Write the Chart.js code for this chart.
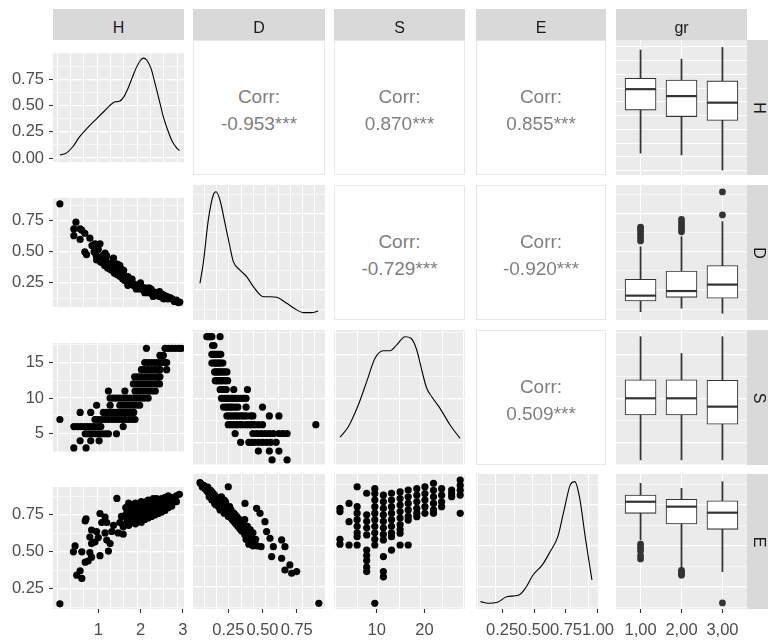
<!DOCTYPE html>
<html>
<head>
<meta charset="utf-8">
<script src="https://cdn.jsdelivr.net/npm/chart.js@4.4.1/dist/chart.umd.min.js"></script>
<style>
body { margin: 0; background: #fff; }
#fig { position: relative; width: 768px; height: 644px; overflow: hidden; font-family: "Liberation Sans", Arial, sans-serif; }
canvas { position: absolute; }
.strip { position: absolute; background: #d9d9d9; color: #1a1a1a; font-size: 16px; display: flex; align-items: center; justify-content: center; box-sizing: border-box; }
.strip.top { padding-top: 7px; }
.strip.side span { display: inline-block; transform: rotate(90deg); }
.corr { position: absolute; background: #fff; border: 1px solid #e8e8e8; box-sizing: border-box; color: #7f7f7f; font-size: 19px; }
.corr div { position: absolute; left: 0; right: 0; height: 22px; line-height: 22px; text-align: center; }
</style>
</head>
<body>
<div id="fig"></div>
<script>
// ---------- data ----------
var colNames = ['H', 'D', 'S', 'E', 'gr'];
var rowNames = ['H', 'D', 'S', 'E'];
var groups = ['1,00', '2,00', '3,00'];

// correlation panels: row, col, text
var corrPanels = [
    [0, 1, '-0.953***'], [0, 2, '0.870***'], [0, 3, '0.855***'],
    [1, 2, '-0.729***'], [1, 3, '-0.920***'],
    [2, 3, '0.509***']
];

// axis ranges
var hRange = [-0.073, 3.03];
var dRange = [-0.008, 0.957];
var sColRange = [1.05, 28.5];
var eColRange = [0.046, 1.0];
var grRange = [0.4, 3.6];
var densRowRange = [-0.038, 1.0];
var dRowRange = [0.054, 0.935];
var sRowRange = [2.42, 17.76];
var eRowRange = [0.113, 0.94];

// tick labels
var hTicks = [1, 2, 3];
var dTicks = [0.25, 0.5, 0.75];
var sColTicks = [10, 20];
var eColTicks = [0.25, 0.5, 0.75, 1.0];
var grTicks = [1, 2, 3];
var densTicks = [0, 0.25, 0.5, 0.75];
var dRowTicks = [0.25, 0.5, 0.75];
var sRowTicks = [5, 10, 15];
var eRowTicks = [0.25, 0.5, 0.75];

// diagonal densities
var densHx = [0.09, 0.25, 0.4, 0.55, 0.75, 0.95, 1.15, 1.3, 1.4, 1.5, 1.6, 1.7, 1.8, 1.9, 2.0, 2.07, 2.15, 2.25, 2.35, 2.45, 2.55, 2.65, 2.75, 2.85, 2.92];
var densHy = [0.03, 0.05, 0.11, 0.2, 0.29, 0.37, 0.45, 0.51, 0.535, 0.54, 0.58, 0.66, 0.76, 0.86, 0.93, 0.95, 0.93, 0.85, 0.7, 0.54, 0.38, 0.26, 0.16, 0.1, 0.07];
var densDx = [0.043, 0.067, 0.104, 0.14, 0.16, 0.189, 0.226, 0.262, 0.287, 0.335, 0.384, 0.433, 0.506, 0.555, 0.604, 0.677, 0.75, 0.798, 0.859, 0.907];
var densDy = [0.294, 0.424, 0.707, 0.87, 0.891, 0.837, 0.685, 0.532, 0.435, 0.38, 0.337, 0.272, 0.206, 0.206, 0.202, 0.163, 0.12, 0.102, 0.102, 0.113];
var densSx = [2.3, 4.05, 6.14, 7.9, 9.64, 11.38, 12.79, 14.19, 15.93, 17.19, 18.39, 19.43, 20.48, 21.53, 23.27, 25.37, 27.46];
var densSy = [5.57, 6.77, 9.24, 11.89, 14.55, 15.41, 15.41, 16.06, 17.0, 16.82, 15.49, 13.22, 11.14, 10.18, 8.86, 6.97, 5.45];
var densEx = [0.081, 0.141, 0.214, 0.286, 0.383, 0.432, 0.492, 0.565, 0.626, 0.686, 0.735, 0.783, 0.819, 0.855, 0.904, 0.953];
var densEy = [0.158, 0.148, 0.154, 0.188, 0.199, 0.24, 0.321, 0.383, 0.464, 0.556, 0.719, 0.872, 0.893, 0.801, 0.536, 0.291];

// box plots per group: [lower whisker, q1, median, q3, upper whisker]
var boxH = [[0.43, 1.42, 1.9, 2.15, 2.8], [0.39, 1.27, 1.74, 2.11, 2.59], [0.04, 1.18, 1.59, 2.09, 2.86]];
var boxD = [[0.108, 0.178, 0.213, 0.32, 0.532], [0.131, 0.202, 0.243, 0.374, 0.598], [0.098, 0.196, 0.285, 0.409, 0.696]];
var boxS = [[3, 8.1, 10, 12.1, 17], [3, 8.1, 10, 12.1, 15.1], [3, 7.05, 9.05, 12.05, 17]];
var boxE = [[0.536, 0.699, 0.77, 0.811, 0.883], [0.362, 0.634, 0.74, 0.785, 0.852], [0.342, 0.601, 0.703, 0.776, 0.893]];
// outliers: [group, value]
var outD = [[1, 0.57], [1, 0.59], [1, 0.61], [1, 0.63], [1, 0.65], [1, 0.66], [2, 0.63], [2, 0.65], [2, 0.67], [2, 0.69], [2, 0.71], [3, 0.74], [3, 0.89]];
var outE = [[1, 0.51], [1, 0.49], [1, 0.47], [1, 0.44], [1, 0.42], [2, 0.35], [2, 0.34], [2, 0.33], [2, 0.32], [3, 0.15]];

// scatter panels [x, y]
var hdPts = [
    [0.09, 0.887], [0.47, 0.739], [0.42, 0.685], [0.42, 0.63], [0.57, 0.685], [0.57, 0.6], [0.61, 0.674], [0.68, 0.65], [0.8, 0.61],
    [0.68, 0.5], [0.72, 0.478], [0.92, 0.565], [1.04, 0.565], [0.96, 0.435], [1.16, 0.49], [1.2, 0.467], [1.36, 0.45], [1.51, 0.39],
    [0.85, 0.55], [0.9, 0.5], [0.95, 0.47], [1.0, 0.52], [1.0, 0.45], [1.05, 0.42], [1.1, 0.47], [1.1, 0.41], [1.15, 0.44], [1.15, 0.39],
    [1.2, 0.42], [1.22, 0.37], [1.25, 0.4], [1.28, 0.36], [1.3, 0.39], [1.33, 0.35], [1.36, 0.37], [1.38, 0.33], [1.4, 0.36], [1.43, 0.32],
    [1.45, 0.34], [1.48, 0.31], [1.5, 0.33], [1.52, 0.3], [1.55, 0.31], [1.58, 0.28], [1.6, 0.3], [1.62, 0.27], [1.65, 0.29], [1.68, 0.26],
    [1.7, 0.27], [1.73, 0.25], [1.75, 0.26], [1.78, 0.24], [1.8, 0.25], [1.83, 0.23], [1.85, 0.24], [1.88, 0.22], [1.9, 0.23], [1.93, 0.21],
    [1.95, 0.23], [1.98, 0.2], [2.0, 0.22], [2.03, 0.2], [2.05, 0.21], [2.08, 0.19], [2.1, 0.21], [2.13, 0.18], [2.15, 0.2], [2.18, 0.17],
    [2.2, 0.19], [2.23, 0.17], [2.25, 0.2], [2.28, 0.16], [2.3, 0.18], [2.33, 0.15], [2.35, 0.17], [2.4, 0.15], [2.42, 0.17], [2.45, 0.14],
    [2.5, 0.16], [2.52, 0.13], [2.55, 0.15], [2.6, 0.13], [2.62, 0.14], [2.65, 0.12], [2.7, 0.13], [2.75, 0.12], [2.8, 0.1], [2.85, 0.11],
    [2.9, 0.09], [2.93, 0.095], [1.35, 0.42], [1.45, 0.4], [1.55, 0.36], [1.6, 0.35], [1.7, 0.3], [1.8, 0.28], [1.9, 0.2], [2.0, 0.25],
    [2.1, 0.17], [1.7, 0.23], [1.6, 0.32], [2.2, 0.21], [2.3, 0.14], [2.45, 0.18], [2.55, 0.12]
];
var hsPts = [
    [0.09, 7], [0.42, 3], [0.71, 3], [0.57, 4], [0.82, 4], [1.02, 4],
    [0.69, 5], [0.77, 5], [0.85, 5], [0.93, 5], [1.01, 5], [1.09, 5], [1.17, 5], [1.24, 5], [1.43, 5],
    [0.42, 6], [0.5, 6], [0.58, 6], [0.66, 6], [0.74, 6], [0.82, 6], [0.9, 6], [0.98, 6], [1.06, 6], [1.59, 6],
    [0.92, 7], [1.0, 7], [1.08, 7], [1.16, 7], [1.24, 7], [1.32, 7], [1.4, 7], [1.48, 7], [1.56, 7], [1.64, 7], [1.72, 7], [1.8, 7], [1.87, 7],
    [0.57, 8], [0.82, 8], [1.12, 8], [1.2, 8], [1.28, 8], [1.36, 8], [1.44, 8], [1.52, 8], [1.6, 8], [1.68, 8], [1.76, 8], [1.84, 8],
    [0.96, 9], [1.28, 9], [1.51, 9], [1.59, 9], [1.67, 9], [1.75, 9], [1.83, 9], [1.91, 9], [1.98, 9],
    [1.28, 10], [1.36, 10], [1.44, 10], [1.52, 10], [1.6, 10], [1.68, 10], [1.76, 10], [1.84, 10], [1.92, 10], [2.0, 10], [2.08, 10], [2.18, 10],
    [1.24, 11], [1.63, 11], [1.87, 11], [1.95, 11], [2.03, 11], [2.11, 11], [2.19, 11], [2.27, 11], [2.35, 11],
    [1.83, 12], [1.91, 12], [1.99, 12], [2.07, 12], [2.15, 12], [2.23, 12], [2.31, 12], [2.39, 12], [2.45, 12],
    [1.86, 13], [1.94, 13], [2.02, 13], [2.1, 13], [2.18, 13], [2.26, 13], [2.34, 13], [2.42, 13], [2.46, 13],
    [2.02, 14], [2.1, 14], [2.18, 14], [2.26, 14], [2.34, 14], [2.42, 14], [2.46, 14], [2.62, 14],
    [2.1, 15], [2.18, 15], [2.26, 15], [2.34, 15], [2.42, 15], [2.5, 15], [2.58, 15], [2.62, 15],
    [2.46, 16], [2.54, 16],
    [2.14, 17], [2.58, 17], [2.66, 17], [2.74, 17], [2.82, 17], [2.9, 17], [2.97, 17]
];
var dsPts = [
    [0.89, 7], [0.68, 3], [0.57, 3], [0.62, 4], [0.55, 4], [0.47, 4],
    [0.6, 5], [0.56, 5], [0.53, 5], [0.5, 5], [0.47, 5], [0.44, 5], [0.42, 5], [0.4, 5], [0.34, 5],
    [0.68, 6], [0.65, 6], [0.62, 6], [0.58, 6], [0.55, 6], [0.52, 6], [0.49, 6], [0.46, 6], [0.43, 6], [0.3, 6],
    [0.5, 7], [0.47, 7], [0.44, 7], [0.42, 7], [0.4, 7], [0.38, 7], [0.35, 7], [0.33, 7], [0.31, 7], [0.29, 7], [0.27, 7], [0.25, 7],
    [0.62, 8], [0.55, 8], [0.43, 8], [0.41, 8], [0.38, 8], [0.36, 8], [0.34, 8], [0.32, 8], [0.3, 8], [0.28, 8], [0.26, 8], [0.24, 8],
    [0.5, 9], [0.38, 9], [0.32, 9], [0.3, 9], [0.28, 9], [0.265, 9], [0.25, 9], [0.235, 9], [0.215, 9],
    [0.38, 10], [0.36, 10], [0.34, 10], [0.32, 10], [0.3, 10], [0.285, 10], [0.27, 10], [0.25, 10], [0.235, 10], [0.22, 10], [0.2, 10],
    [0.39, 11], [0.29, 11], [0.235, 11], [0.22, 11], [0.205, 11], [0.19, 11],
    [0.245, 12], [0.23, 12], [0.215, 12], [0.2, 12], [0.19, 12], [0.175, 12], [0.165, 12], [0.155, 12],
    [0.24, 13], [0.225, 13], [0.21, 13], [0.195, 13], [0.185, 13], [0.17, 13], [0.16, 13], [0.15, 13],
    [0.21, 14], [0.195, 14], [0.185, 14], [0.175, 14], [0.165, 14], [0.155, 14], [0.145, 14], [0.13, 14],
    [0.195, 15], [0.185, 15], [0.175, 15], [0.165, 15], [0.155, 15], [0.145, 15], [0.135, 15], [0.13, 15],
    [0.145, 16], [0.135, 16],
    [0.19, 17], [0.13, 17], [0.12, 17], [0.115, 17], [0.11, 17], [0.1, 17], [0.093, 17]
];
var hePts = [
    [0.09, 0.148], [0.45, 0.54], [0.41, 0.5], [0.61, 0.5], [0.49, 0.342], [0.57, 0.372], [0.61, 0.32], [0.69, 0.709], [0.71, 0.724],
    [0.69, 0.43], [0.76, 0.438], [0.84, 0.464], [0.8, 0.495], [0.84, 0.556], [0.84, 0.648], [0.8, 0.6], [0.92, 0.566], [1.04, 0.474],
    [1.04, 0.76], [1.0, 0.597], [0.96, 0.638], [1.08, 0.699], [1.16, 0.736], [1.16, 0.628], [1.2, 0.58], [1.2, 0.699], [1.24, 0.505],
    [1.28, 0.556], [1.32, 0.638], [1.36, 0.68], [1.44, 0.862], [1.51, 0.699], [1.55, 0.74], [1.47, 0.628], [1.59, 0.67], [1.59, 0.62],
    [1.65, 0.69], [1.65, 0.75], [1.65, 0.8], [1.72, 0.68], [1.72, 0.74], [1.72, 0.79], [1.72, 0.83], [1.8, 0.7], [1.8, 0.76], [1.8, 0.81],
    [1.88, 0.69], [1.88, 0.74], [1.88, 0.79], [1.88, 0.83], [1.95, 0.71], [1.95, 0.77], [1.95, 0.82], [2.02, 0.7], [2.02, 0.75], [2.02, 0.8],
    [2.02, 0.84], [2.1, 0.72], [2.1, 0.78], [2.1, 0.83], [2.18, 0.73], [2.18, 0.77], [2.18, 0.81], [2.18, 0.85], [2.26, 0.74], [2.26, 0.79],
    [2.26, 0.84], [2.34, 0.75], [2.34, 0.8], [2.34, 0.85], [2.42, 0.76], [2.42, 0.8], [2.42, 0.84], [2.5, 0.77], [2.5, 0.82], [2.5, 0.86],
    [2.58, 0.78], [2.58, 0.82], [2.58, 0.87], [2.66, 0.8], [2.66, 0.84], [2.66, 0.88], [2.74, 0.81], [2.74, 0.85], [2.85, 0.84], [2.85, 0.88],
    [2.92, 0.89],
    [1.68, 0.72], [1.68, 0.77], [1.76, 0.71], [1.76, 0.77], [1.76, 0.81], [1.84, 0.72], [1.84, 0.78], [1.84, 0.82], [1.92, 0.72], [1.92, 0.76],
    [1.92, 0.8], [1.99, 0.73], [1.99, 0.78], [1.99, 0.83], [2.06, 0.73], [2.06, 0.77], [2.06, 0.81], [2.14, 0.75], [2.14, 0.8], [2.14, 0.84],
    [2.22, 0.75], [2.22, 0.79], [2.22, 0.83], [2.3, 0.77], [2.3, 0.81], [2.3, 0.86], [2.38, 0.77], [2.38, 0.82], [2.38, 0.86], [2.46, 0.79],
    [2.46, 0.83], [2.54, 0.8], [2.54, 0.84], [2.62, 0.8], [2.62, 0.85], [2.7, 0.83], [2.7, 0.87], [2.78, 0.84], [2.8, 0.87]
];
var dePts = [
    [0.043, 0.887], [0.05, 0.88], [0.07, 0.87], [0.08, 0.85], [0.1, 0.86], [0.1, 0.83], [0.12, 0.84], [0.12, 0.81], [0.14, 0.82], [0.14, 0.79],
    [0.15, 0.76], [0.16, 0.8], [0.17, 0.77], [0.18, 0.74], [0.19, 0.79], [0.2, 0.76], [0.21, 0.72], [0.22, 0.78], [0.23, 0.74], [0.24, 0.7],
    [0.25, 0.862], [0.25, 0.73], [0.26, 0.68], [0.27, 0.72], [0.28, 0.66], [0.29, 0.7], [0.3, 0.64], [0.31, 0.68], [0.32, 0.62], [0.33, 0.66],
    [0.34, 0.6], [0.35, 0.64], [0.36, 0.6], [0.37, 0.66], [0.38, 0.58], [0.39, 0.62], [0.4, 0.56], [0.41, 0.6], [0.42, 0.53], [0.43, 0.58],
    [0.44, 0.52], [0.44, 0.505], [0.38, 0.54], [0.4, 0.51], [0.43, 0.5], [0.46, 0.5], [0.372, 0.76], [0.457, 0.73], [0.482, 0.699],
    [0.518, 0.648], [0.53, 0.587], [0.49, 0.495], [0.555, 0.546], [0.579, 0.495], [0.567, 0.434], [0.64, 0.536], [0.664, 0.495],
    [0.64, 0.424], [0.664, 0.352], [0.7, 0.383], [0.713, 0.332], [0.75, 0.342], [0.912, 0.148],
    [0.06, 0.86], [0.09, 0.84], [0.11, 0.8], [0.13, 0.83], [0.13, 0.78], [0.15, 0.81], [0.16, 0.75], [0.18, 0.78], [0.19, 0.72], [0.2, 0.8],
    [0.21, 0.75], [0.22, 0.7], [0.23, 0.77], [0.24, 0.72], [0.25, 0.68], [0.26, 0.74], [0.27, 0.67], [0.28, 0.7], [0.29, 0.65], [0.3, 0.69],
    [0.31, 0.63], [0.32, 0.67], [0.33, 0.61], [0.34, 0.65], [0.35, 0.59], [0.36, 0.63], [0.37, 0.57], [0.38, 0.61], [0.39, 0.55], [0.41, 0.54],
    [0.42, 0.57], [0.45, 0.54]
];
var sePts = [
    [2.3, 0.73], [2.3, 0.71], [2.3, 0.54], [2.3, 0.51],
    [4.2, 0.76], [4.2, 0.648], [4.2, 0.505],
    [5.9, 0.862], [5.9, 0.74], [5.9, 0.7], [5.9, 0.66], [5.9, 0.62], [5.9, 0.58], [5.9, 0.556], [5.9, 0.505],
    [7.9, 0.822], [7.9, 0.69], [7.9, 0.65], [7.9, 0.61], [7.9, 0.567], [7.9, 0.474], [7.9, 0.44], [7.9, 0.41], [7.9, 0.37], [7.9, 0.342],
    [9.6, 0.85], [9.6, 0.82], [9.6, 0.78], [9.6, 0.74], [9.6, 0.7], [9.6, 0.66], [9.6, 0.62], [9.6, 0.58], [9.6, 0.54], [9.6, 0.505], [9.6, 0.148],
    [11.4, 0.81], [11.4, 0.77], [11.4, 0.73], [11.4, 0.69], [11.4, 0.65], [11.4, 0.61], [11.4, 0.57], [11.4, 0.536], [11.4, 0.434], [11.4, 0.342], [11.4, 0.31],
    [13.1, 0.822], [13.1, 0.78], [13.1, 0.74], [13.1, 0.7], [13.1, 0.66], [13.1, 0.62], [13.1, 0.58], [13.1, 0.556], [13.1, 0.474],
    [14.9, 0.83], [14.9, 0.79], [14.9, 0.75], [14.9, 0.71], [14.9, 0.67], [14.9, 0.63], [14.9, 0.6], [14.9, 0.577], [14.9, 0.505],
    [16.6, 0.842], [16.6, 0.8], [16.6, 0.76], [16.6, 0.72], [16.6, 0.68], [16.6, 0.658], [16.6, 0.505],
    [18.4, 0.85], [18.4, 0.81], [18.4, 0.77], [18.4, 0.73], [18.4, 0.7], [18.4, 0.678],
    [20.1, 0.862], [20.1, 0.82], [20.1, 0.78], [20.1, 0.74], [20.1, 0.699],
    [21.9, 0.883], [21.9, 0.84], [21.9, 0.8], [21.9, 0.76], [21.9, 0.72], [21.9, 0.699],
    [23.6, 0.85], [23.6, 0.81], [23.6, 0.77], [23.6, 0.74],
    [25.7, 0.842], [25.7, 0.82], [25.7, 0.801],
    [27.5, 0.903], [27.5, 0.87], [27.5, 0.84], [27.5, 0.811], [27.5, 0.699]
];

// ---------- layout ----------
var colL = [53, 193, 334, 476, 616];
var colW = [131, 132, 131, 130, 131];
var rowT = [40, 185, 330, 474];
var rowH = 135;

Chart.defaults.font.family = '"Liberation Sans", Arial, sans-serif';

var fig = document.getElementById('fig');

function seq(start, step, n) {
    var out = [];
    for (var k = 0; k < n; k++) out.push(+(start + step * k).toFixed(4));
    return out;
}
function isMult(v, step) {
    var q = v / step;
    return Math.abs(q - Math.round(q)) < 1e-6;
}
var fmt2 = function (v) { return v.toFixed(2); };
var fmt0 = function (v) { return String(v); };
var fmtGr = function (v) { return groups[v - 1]; };

// white grid lines of each panel
var hGrid = seq(0.028, 0.316, 10);
var dGrid = seq(0.075, 0.0898, 10);
var sColGrid = seq(1.405, 4.465, 7);
var eColGrid = seq(0.056, 0.1453, 7);
var densGrid = seq(0, 0.125, 9);
var dRowGrid = seq(0.125, 0.125, 7);
var sRowGrid = seq(2.5, 2.5, 7);
var eRowGrid = seq(0.125, 0.125, 7);

function gridAxis(axis, range, vals, majorStep) {
    return {
        type: 'linear', axis: axis, position: axis === 'x' ? 'bottom' : 'left',
        min: range[0], max: range[1], offset: false, beginAtZero: false, bounds: 'data',
        afterBuildTicks: function (s) { s.ticks = vals.map(function (v) { return { value: v }; }); },
        afterFit: function (s) { if (axis === 'x') s.height = 0; else s.width = 0; },
        ticks: { display: false },
        grid: {
            color: '#ffffff', drawTicks: false, offset: false,
            lineWidth: function (ctx) {
                if (!majorStep) return 1;
                return ctx.tick && isMult(ctx.tick.value, majorStep) ? 1.3 : 0.6;
            }
        },
        border: { display: false }
    };
}

function tickAxis(axis, range, vals, fmt, size) {
    return {
        type: 'linear', axis: axis, position: axis === 'x' ? 'bottom' : 'left',
        min: range[0], max: range[1], offset: false, beginAtZero: false, bounds: 'data',
        afterBuildTicks: function (s) { s.ticks = vals.map(function (v) { return { value: v }; }); },
        afterFit: function (s) { if (axis === 'x') s.height = size; else s.width = size; },
        ticks: {
            display: true, color: '#4d4d4d', font: { size: 16.5 }, padding: axis === 'x' ? 8 : 5,
            autoSkip: false, maxRotation: 0, minRotation: 0,
            callback: function (v) { return fmt(v); }
        },
        grid: { drawOnChartArea: false, drawTicks: true, tickLength: 4, tickColor: '#333333', tickWidth: 1.1, offset: false },
        border: { display: false }
    };
}

var panelBg = {
    id: 'panelBg',
    beforeDraw: function (chart) {
        var a = chart.chartArea, g = chart.ctx;
        g.save();
        g.fillStyle = '#ebebeb';
        g.fillRect(a.left, a.top, a.right - a.left, a.bottom - a.top);
        g.restore();
    }
};

// per column / row scale settings
var colSpec = [
    { range: hRange, grid: hGrid, ticks: hTicks, fmt: fmt0 },
    { range: dRange, grid: dGrid, ticks: dTicks, fmt: fmt2 },
    { range: sColRange, grid: sColGrid, ticks: sColTicks, fmt: fmt0 },
    { range: eColRange, grid: eColGrid, ticks: eColTicks, fmt: fmt2 },
    { range: grRange, grid: grTicks, ticks: grTicks, fmt: fmtGr }
];
var rowSpec = [
    { range: densRowRange, grid: densGrid, ticks: densTicks, fmt: fmt2, major: 0.25 },
    { range: dRowRange, grid: dRowGrid, ticks: dRowTicks, fmt: fmt2, major: 0.25 },
    { range: sRowRange, grid: sRowGrid, ticks: sRowTicks, fmt: fmt0, major: 5 },
    { range: eRowRange, grid: eRowGrid, ticks: eRowTicks, fmt: fmt2, major: 0.25 }
];
// the box plot in the first row uses the H scale
var boxRow0 = { range: hRange, grid: hGrid, major: 0 };

function panel(r, c, type, datasets) {
    var left = c === 0 ? 0 : colL[c] - 2;
    var top = rowT[r] - 2;
    var right = colL[c] + colW[c] + 16;
    var bottom = r === 3 ? 644 : rowT[r] + rowH + 2;
    var cv = document.createElement('canvas');
    cv.width = right - left;
    cv.height = bottom - top;
    cv.style.left = left + 'px';
    cv.style.top = top + 'px';
    fig.appendChild(cv);

    var cs = colSpec[c];
    var rs = (c === 4 && r === 0) ? boxRow0 : rowSpec[r];
    var scales = {
        x: gridAxis('x', cs.range, cs.grid, 0),
        y: gridAxis('y', rs.range, rs.grid, rs.major)
    };
    if (r === 3) scales.xt = tickAxis('x', cs.range, cs.ticks, cs.fmt, 644 - 609);
    if (c === 0) scales.yt = tickAxis('y', rowSpec[r].range, rowSpec[r].ticks, rowSpec[r].fmt, 53);

    new Chart(cv, {
        type: type,
        data: { datasets: datasets },
        options: {
            responsive: false, animation: false, devicePixelRatio: 1, events: [],
            layout: { autoPadding: false, padding: { left: c === 0 ? 0 : 2, top: 2, right: 16, bottom: r === 3 ? 0 : 2 } },
            plugins: { legend: { display: false }, tooltip: { enabled: false }, title: { display: false } },
            scales: scales
        },
        plugins: [panelBg]
    });
}

function toXY(pts) { return pts.map(function (p) { return { x: p[0], y: p[1] }; }); }
function pairXY(xs, ys) { return xs.map(function (x, i) { return { x: x, y: ys[i] }; }); }

function scatterSet(pts) {
    return [{ data: toXY(pts), pointRadius: 3.6, pointBackgroundColor: '#000', pointBorderWidth: 0, showLine: false }];
}
function densSet(xs, ys) {
    return [{ data: pairXY(xs, ys), showLine: true, pointRadius: 0, borderColor: '#000', borderWidth: 1.1, cubicInterpolationMode: 'monotone', fill: false }];
}
function boxSets(stats, outs) {
    return [
        { type: 'scatter', data: stats.map(function (b, i) { return { x: i + 1, y: b[2] }; }),
          pointStyle: 'line', pointRadius: 15.5, pointBorderWidth: 2.2, pointBorderColor: '#333333' },
        { type: 'scatter', data: (outs || []).map(function (o) { return { x: o[0], y: o[1] }; }),
          pointRadius: 3.4, pointBackgroundColor: '#333333', pointBorderWidth: 0 },
        { type: 'bar', grouped: false, barThickness: 31, data: stats.map(function (b, i) { return { x: i + 1, y: [b[1], b[3]] }; }),
          backgroundColor: '#ffffff', borderColor: '#333333', borderWidth: 1.1, borderSkipped: false },
        { type: 'bar', grouped: false, barThickness: 1.1, data: stats.map(function (b, i) { return { x: i + 1, y: [b[0], b[4]] }; }),
          backgroundColor: '#333333', borderWidth: 0 }
    ];
}

// diagonal
panel(0, 0, 'scatter', densSet(densHx, densHy));
panel(1, 1, 'scatter', densSet(densDx, densDy));
panel(2, 2, 'scatter', densSet(densSx, densSy));
panel(3, 3, 'scatter', densSet(densEx, densEy));
// lower triangle
panel(1, 0, 'scatter', scatterSet(hdPts));
panel(2, 0, 'scatter', scatterSet(hsPts));
panel(2, 1, 'scatter', scatterSet(dsPts));
panel(3, 0, 'scatter', scatterSet(hePts));
panel(3, 1, 'scatter', scatterSet(dePts));
panel(3, 2, 'scatter', scatterSet(sePts));
// box plots by group
panel(0, 4, 'bar', boxSets(boxH, []));
panel(1, 4, 'bar', boxSets(boxD, outD));
panel(2, 4, 'bar', boxSets(boxS, []));
panel(3, 4, 'bar', boxSets(boxE, outE));

// correlation text panels
corrPanels.forEach(function (p) {
    var d = document.createElement('div');
    d.className = 'corr';
    d.style.left = colL[p[1]] + 'px';
    d.style.top = rowT[p[0]] + 'px';
    d.style.width = colW[p[1]] + 'px';
    d.style.height = rowH + 'px';
    d.innerHTML = '<div style="top:45px">Corr:</div><div style="top:72px">' + p[2] + '</div>';
    fig.appendChild(d);
});

// facet strips
colNames.forEach(function (n, c) {
    var s = document.createElement('div');
    s.className = 'strip top';
    s.style.left = colL[c] + 'px';
    s.style.top = '9px';
    s.style.width = colW[c] + 'px';
    s.style.height = '31px';
    s.textContent = n;
    fig.appendChild(s);
});
rowNames.forEach(function (n, r) {
    var s = document.createElement('div');
    s.className = 'strip side';
    s.style.left = '747px';
    s.style.top = rowT[r] + 'px';
    s.style.width = '24px';
    s.style.height = rowH + 'px';
    s.innerHTML = '<span>' + n + '</span>';
    fig.appendChild(s);
});
</script>
</body>
</html>
